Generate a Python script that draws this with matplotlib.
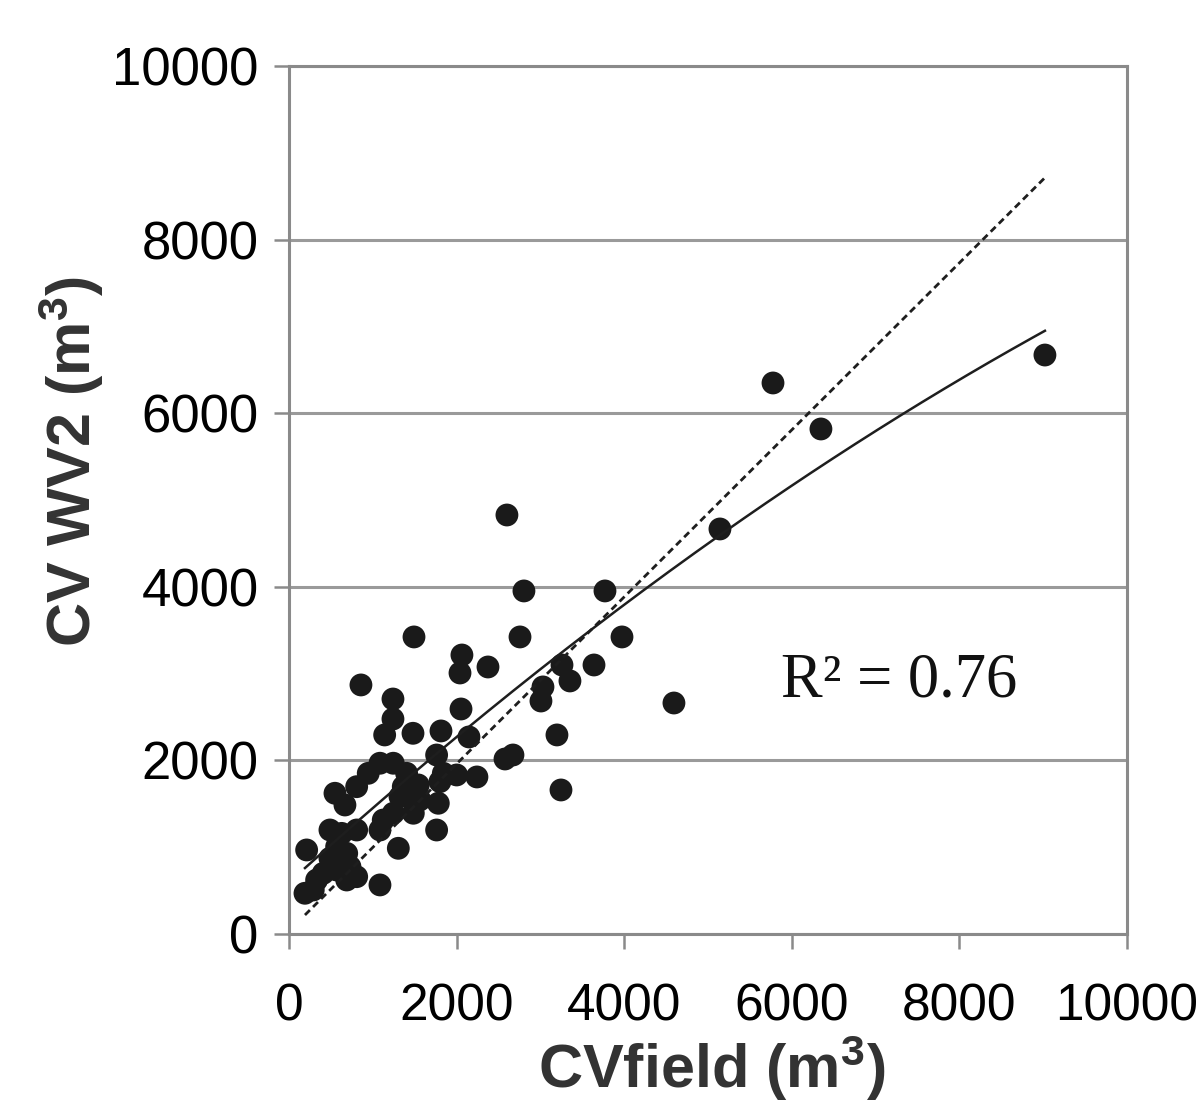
import numpy as np
import matplotlib
matplotlib.use('Agg')
import matplotlib.pyplot as plt

plt.rcParams['font.family'] = ['Liberation Sans', 'DejaVu Sans']

# Scatter points (CVfield, CV WV2) in m3
cvField = [9021, 5776, 6348, 5143, 4594, 2601, 2804, 3771, 2757, 3974,
           3640, 3258, 3353, 3031, 3007, 3198, 3246, 2375, 2064, 2041,
           2053, 2148, 2243, 2673, 2578, 1492, 859, 1241, 1241, 1142,
           1480, 1814, 2001, 1762, 1842, 1802, 1782, 1762, 1543, 1563,
           1484, 1325, 1245, 1125, 1086, 1305, 1086, 1404, 1364, 1245,
           1086, 946, 808, 549, 668, 808, 489, 629, 569, 689,
           728, 689, 569, 409, 330, 211, 191, 290, 489, 629,
           808]
cvWV2 = [6670, 6348, 5818, 4666, 2661, 4827, 3952, 3952, 3422, 3422,
         3099, 3099, 2915, 2846, 2684, 2293, 1659, 3076, 3214, 3007,
         2592, 2270, 1809, 2062, 2016, 3422, 2869, 2707, 2477, 2293,
         2312, 2339, 1832, 2062, 1851, 1755, 1506, 1198, 1717, 1544,
         1391, 1582, 1391, 1313, 1198, 987, 565, 1851, 1697, 1967,
         1967, 1851, 1697, 1621, 1486, 1198, 1198, 1159, 1006, 929,
         775, 622, 737, 699, 622, 968, 469, 507, 872, 814,
         660]

# trend lines
polyCoef = [-1.9e-5, 0.876, 593]   # solid, 2nd order
linCoef = [0.962, 35]              # dashed, linear
lineStart = 191
lineEnd = 9021
r2Text = 'R² = 0.76'

xTicks = [0, 2000, 4000, 6000, 8000, 10000]
yTicks = [0, 2000, 4000, 6000, 8000, 10000]

fig = plt.figure(figsize=(12.03, 11.07), dpi=100)
ax = fig.add_axes([0.2402, 0.1563, 0.6966, 0.7841])

ax.scatter(cvField, cvWV2, s=270, color='#1a1a1a', edgecolors='none', zorder=3)

xx = np.linspace(lineStart, lineEnd, 200)
ax.plot(xx, np.polyval(polyCoef, xx), color='#1e1e1e', lw=1.8, zorder=4)
ax.plot(xx, np.polyval(linCoef, xx), color='#1e1e1e', lw=2.0,
        dashes=(2.5, 1.6), zorder=4)

ax.set_xlim(0, 10000)
ax.set_ylim(0, 10000)
ax.set_xticks(xTicks)
ax.set_yticks(yTicks)
ax.set_xticklabels([str(t) for t in xTicks])
ax.set_yticklabels([str(t) for t in yTicks])

ax.yaxis.grid(True, color='#9a9a9a', lw=2.2)
ax.set_axisbelow(True)
for sp in ax.spines.values():
    sp.set_color('#8a8a8a')
    sp.set_linewidth(2.2)

ax.tick_params(axis='y', direction='out', length=11, width=1.8, color='#8a8a8a',
               labelsize=38, pad=11)
ax.tick_params(axis='x', direction='out', length=11, width=1.8, color='#8a8a8a',
               labelsize=37, pad=24)

ax.set_xlabel('CVfield (m$\\mathregular{^3}$)', fontsize=44, fontweight='bold',
              color='#333333')
ax.set_ylabel('CV WV2 (m$\\mathregular{^3}$)', fontsize=44, fontweight='bold',
              color='#333333')
ax.xaxis.set_label_coords(0.505, -0.115)
ax.yaxis.set_label_coords(-0.218, 0.544)

ax.text(7280, 2910, r2Text, fontsize=45, family=['Liberation Serif', 'DejaVu Serif'],
        ha='center', va='center', color='#111111')

fig.savefig('out.png', dpi=100)
